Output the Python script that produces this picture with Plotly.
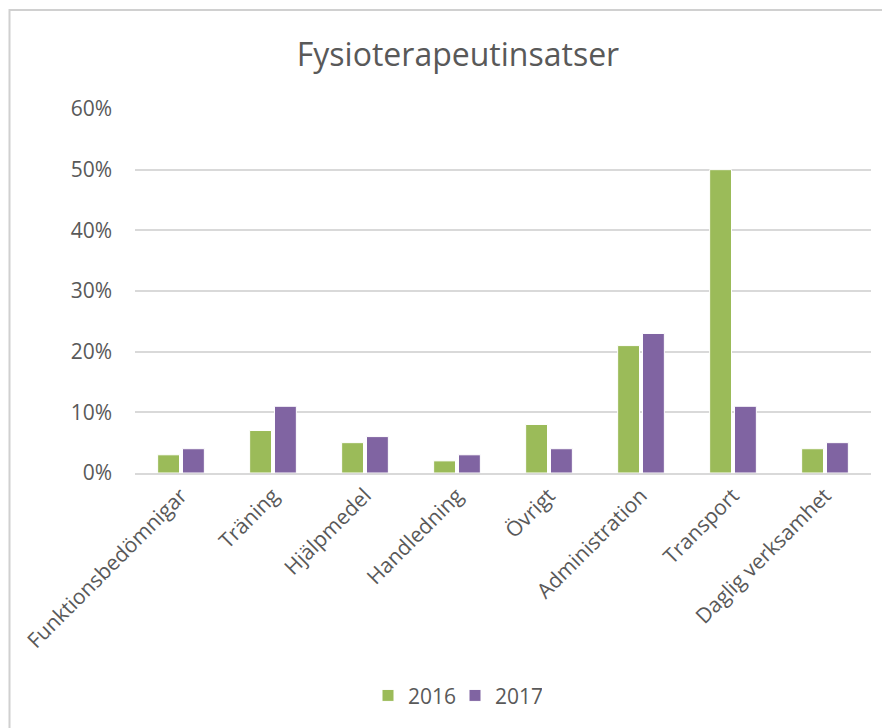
import plotly.graph_objects as go

categories = ["Funktionsbedömnigar", "Träning", "Hjälpmedel", "Handledning",
              "Övrigt", "Administration", "Transport", "Daglig verksamhet"]
values_2016 = [0.03, 0.07, 0.05, 0.02, 0.08, 0.21, 0.50, 0.04]
values_2017 = [0.04, 0.11, 0.06, 0.03, 0.04, 0.23, 0.11, 0.05]
series_names = ["2016", "2017"]
tick_vals = [0, 0.1, 0.2, 0.3, 0.4, 0.5, 0.6]
tick_text = ["0%", "10%", "20%", "30%", "40%", "50%", "60%"]

GREEN = "#9BBB59"
PURPLE = "#8064A2"
TEXT = "#595959"
FONT = "Open Sans"

fig = go.Figure()
fig.add_trace(go.Bar(x=categories, y=values_2016, name=series_names[0],
                     marker=dict(color=GREEN, line=dict(color="white", width=1))))
fig.add_trace(go.Bar(x=categories, y=values_2017, name=series_names[1],
                     marker=dict(color=PURPLE, line=dict(color="white", width=1))))

fig.update_layout(
    width=890, height=728,
    margin=dict(l=127, r=27, t=101, b=263),
    paper_bgcolor="white", plot_bgcolor="white",
    font=dict(family=FONT, color=TEXT, size=21),
    title=dict(text="Fysioterapeutinsatser", x=(458 - 8) / 890, xanchor="center",
               y=1 - 47 / 728, yref="container", yanchor="middle",
               font=dict(family=FONT, size=32, color=TEXT)),
    barmode="group", bargap=0.46, bargroupgap=0.12,
    showlegend=True,
    legend=dict(orientation="h", x=(368 - 135) / 736, xanchor="left",
                y=-0.612, yanchor="middle",
                font=dict(family=FONT, size=21, color=TEXT),
                entrywidth=42, traceorder="normal"),
    xaxis=dict(tickangle=-45, showgrid=False, showline=True, linecolor="#D9D9D9",
               linewidth=2, ticks="", tickfont=dict(family=FONT, size=21, color=TEXT)),
    yaxis=dict(range=[0, 0.6], tickvals=tick_vals, ticktext=tick_text,
               showgrid=True, gridcolor="#D9D9D9", gridwidth=1.5, zeroline=False,
               showline=False, ticks="", ticklabelstandoff=22,
               tickfont=dict(family=FONT, size=21, color=TEXT)),
    shapes=[dict(type="rect", xref="paper", yref="paper",
                 x0=(1.5 - 127) / 736, x1=1.05, y0=-0.75, y1=1 + (109 - 10) / 364,
                 line=dict(color="#D0D0D0", width=2), fillcolor="rgba(0,0,0,0)",
                 layer="below")],
)

fig.write_html("out.html")
